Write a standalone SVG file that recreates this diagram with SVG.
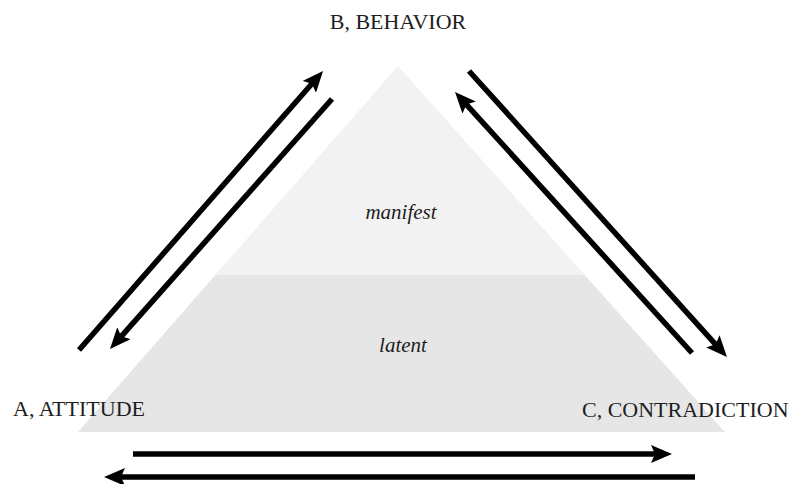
<svg xmlns="http://www.w3.org/2000/svg" width="796" height="484" viewBox="0 0 796 484">
  <defs>
    <marker id="ah" markerUnits="userSpaceOnUse" markerWidth="21" markerHeight="18" viewBox="0 0 21 18" refX="10" refY="9" orient="auto">
      <path d="M0,0 L21,9 L0,18 L4,9 z" fill="#000"/>
    </marker>
    <clipPath id="tri">
      <polygon points="398,66 78,432 725,432"/>
    </clipPath>
  </defs>
  <style>
    .lbl { font-family: "Liberation Serif", "Times New Roman", serif; font-size: 22px; fill: #1e1e1e; }
    .lay { font-family: "Liberation Serif", "Times New Roman", serif; font-size: 21px; font-style: italic; fill: #1e1e1e; }
    .arr { stroke: #000; stroke-width: 5.5; fill: none; marker-end: url(#ah); }
  </style>
  <rect width="796" height="484" fill="#fff"/>
  <g id="pyramid">
    <g clip-path="url(#tri)">
      <rect id="manifest-layer" x="0" y="60" width="796" height="215" fill="#f2f2f3"/>
      <rect id="latent-layer" x="0" y="275" width="796" height="160" fill="#e6e6e7"/>
    </g>
    <text class="lay" x="401" y="219" text-anchor="middle">manifest</text>
    <text class="lay" x="403" y="352" text-anchor="middle">latent</text>
  </g>
  <g id="node-b">
    <text class="lbl" x="398" y="29" text-anchor="middle">B, BEHAVIOR</text>
  </g>
  <g id="node-a">
    <text class="lbl" x="13" y="416">A, ATTITUDE</text>
  </g>
  <g id="node-c">
    <text class="lbl" x="582" y="417">C, CONTRADICTION</text>
  </g>
  <g id="connectors">
    <line class="arr" x1="79" y1="350" x2="315.8" y2="79.3"/>
    <line class="arr" x1="332" y1="99" x2="117.3" y2="340.8"/>
    <line class="arr" x1="469" y1="71" x2="719.6" y2="348.8"/>
    <line class="arr" x1="692" y1="353" x2="462.4" y2="100.1"/>
    <line class="arr" x1="133" y1="454" x2="661" y2="454"/>
    <line class="arr" x1="695" y1="477" x2="115" y2="477"/>
  </g>
</svg>
